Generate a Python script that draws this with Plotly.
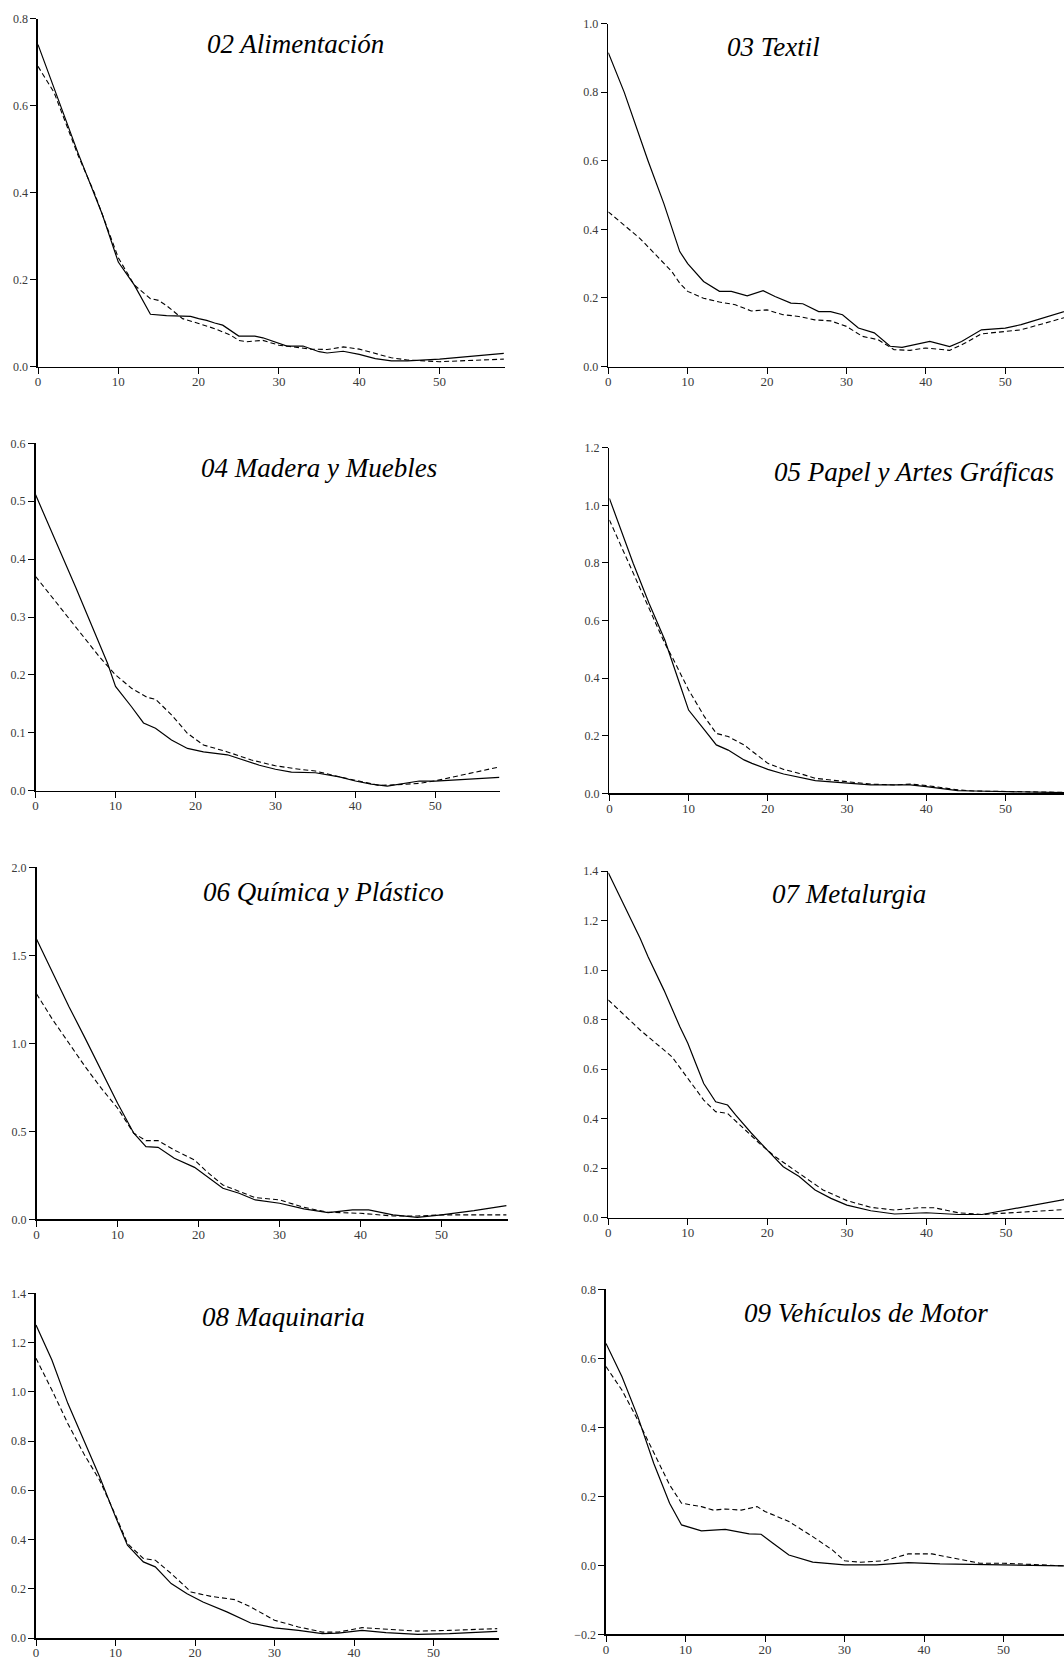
import plotly.graph_objects as go

W, H = 1064, 1662

# ---------------- data ----------------
titles = ["02 Alimentación", "03 Textil", "04 Madera y Muebles", "05 Papel y Artes Gráficas",
          "06 Química y Plástico", "07 Metalurgia", "08 Maquinaria", "09 Vehículos de Motor"]

alim_x_solid = [0, 5, 8, 10, 12, 14, 16, 19, 20, 21, 22, 23, 25, 27, 28, 30, 31, 33, 35, 36, 38, 40, 42, 44, 46, 50, 58]
alim_y_solid = [0.74, 0.49, 0.35, 0.24, 0.187, 0.12, 0.117, 0.115, 0.11, 0.106, 0.10, 0.095, 0.07, 0.07, 0.066, 0.053,
                0.047, 0.047, 0.034, 0.031, 0.035, 0.028, 0.018, 0.013, 0.013, 0.017, 0.03]
alim_x_dash = [0, 2, 5, 7, 10, 12, 14, 15, 16, 18, 20, 22, 24, 25, 26, 28, 30, 32, 34, 36, 38, 40, 42, 44, 46, 50, 58]
alim_y_dash = [0.69, 0.63, 0.485, 0.40, 0.25, 0.187, 0.156, 0.152, 0.14, 0.11, 0.099, 0.087, 0.072, 0.06, 0.057, 0.06,
               0.049, 0.045, 0.04, 0.039, 0.045, 0.04, 0.03, 0.02, 0.015, 0.011, 0.017]

text_x_solid = [0, 2, 5, 7, 9, 10, 12, 14, 15.5, 17.5, 19.5, 21, 23, 24.5, 26.5, 28, 29.5, 31.5, 33.5, 35.5, 37, 40.5,
                43, 44.5, 47, 50, 52, 58]
text_y_solid = [0.915, 0.80, 0.60, 0.475, 0.335, 0.30, 0.248, 0.219, 0.219, 0.206, 0.221, 0.204, 0.185, 0.183, 0.16,
                0.16, 0.151, 0.112, 0.098, 0.059, 0.056, 0.073, 0.058, 0.073, 0.107, 0.112, 0.122, 0.164]
text_x_dash = [0, 4, 8, 9, 10, 12, 14, 16, 18, 20, 22, 24, 26, 28, 30, 32, 34, 36, 38, 40, 43, 45, 47, 50, 52, 58]
text_y_dash = [0.451, 0.373, 0.277, 0.243, 0.219, 0.199, 0.188, 0.18, 0.162, 0.165, 0.151, 0.146, 0.136, 0.133, 0.117,
               0.088, 0.078, 0.049, 0.047, 0.054, 0.047, 0.069, 0.095, 0.103, 0.107, 0.146]

mad_x_solid = [0, 5, 9, 10, 12, 13.5, 15, 17, 19, 21, 24, 26, 28, 30, 32, 35, 38, 40, 42, 44, 46, 48, 50, 58]
mad_y_solid = [0.511, 0.352, 0.22, 0.18, 0.145, 0.117, 0.108, 0.0875, 0.073, 0.067, 0.062, 0.053, 0.044, 0.037, 0.032,
               0.031, 0.024, 0.0167, 0.0115, 0.008, 0.0127, 0.0167, 0.0167, 0.023]
mad_x_dash = [0, 5, 8, 10, 12, 14, 15, 17, 19, 21, 24, 27, 30, 33, 35, 38, 40, 43, 46, 48, 50, 54, 58]
mad_y_dash = [0.37, 0.283, 0.231, 0.2, 0.177, 0.161, 0.158, 0.131, 0.099, 0.079, 0.067, 0.053, 0.043, 0.037, 0.034,
              0.024, 0.018, 0.009, 0.011, 0.0127, 0.017, 0.029, 0.041]

pap_x_solid = [0, 3, 5, 7, 9, 10, 12, 13.5, 15, 17, 18, 20, 22, 24, 26, 28, 30, 33, 36, 38, 40, 42, 44, 46, 50, 58]
pap_y_solid = [1.024, 0.799, 0.66, 0.532, 0.37, 0.289, 0.22, 0.168, 0.15, 0.116, 0.104, 0.083, 0.067, 0.056, 0.044,
               0.04, 0.035, 0.029, 0.029, 0.029, 0.023, 0.017, 0.009, 0.008, 0.006, 0.002]
pap_x_dash = [0, 3, 5, 7, 8, 10, 12, 13.5, 15, 17, 20, 22, 24, 26, 28, 30, 33, 36, 38, 40, 42, 44, 46, 50, 58]
pap_y_dash = [0.949, 0.764, 0.642, 0.52, 0.469, 0.359, 0.266, 0.208, 0.197, 0.168, 0.104, 0.083, 0.069, 0.052, 0.046,
              0.04, 0.032, 0.029, 0.032, 0.027, 0.02, 0.012, 0.008, 0.007, 0.003]

quim_x_solid = [0, 2, 4, 6, 8, 10, 12, 13.5, 15, 17, 19.5, 21, 23, 25, 27, 30, 33, 36, 39, 41, 44, 47, 50, 54, 58]
quim_y_solid = [1.591, 1.398, 1.208, 1.028, 0.839, 0.659, 0.489, 0.413, 0.409, 0.347, 0.295, 0.242, 0.176, 0.148, 0.11,
                0.091, 0.059, 0.038, 0.053, 0.053, 0.025, 0.011, 0.025, 0.049, 0.078]
quim_x_dash = [0, 2, 4, 6, 8, 10, 12, 13.5, 15, 17, 19.5, 21, 23, 25, 27, 30, 33, 36, 40, 44, 47, 50, 58]
quim_y_dash = [1.28, 1.133, 1.0, 0.867, 0.744, 0.631, 0.489, 0.447, 0.447, 0.394, 0.337, 0.271, 0.195, 0.157, 0.123,
               0.11, 0.068, 0.04, 0.034, 0.019, 0.019, 0.025, 0.025]

met_x_solid = [0, 2, 4, 5, 7, 9, 10, 11, 12, 13.5, 15, 16, 18, 20, 22, 24, 26, 28, 30, 33, 36, 40, 44, 47, 50, 54, 58]
met_y_solid = [1.393, 1.263, 1.128, 1.054, 0.919, 0.771, 0.704, 0.623, 0.542, 0.468, 0.455, 0.415, 0.341, 0.273, 0.206,
               0.166, 0.112, 0.078, 0.051, 0.028, 0.015, 0.02, 0.013, 0.013, 0.031, 0.055, 0.077]
met_x_dash = [0, 4, 8, 10, 12, 13.5, 15, 17, 19, 21, 24, 27, 30, 33, 36, 39, 41, 44, 47, 50, 58]
met_y_dash = [0.879, 0.758, 0.65, 0.563, 0.475, 0.428, 0.421, 0.361, 0.3, 0.246, 0.179, 0.112, 0.069, 0.042, 0.031,
              0.04, 0.04, 0.02, 0.013, 0.018, 0.034]

maq_x_solid = [0, 2, 4, 6, 8, 10, 11.5, 13.5, 15, 17, 19, 21, 24, 27, 30, 33, 36, 38, 41, 44, 48, 52, 58]
maq_y_solid = [1.271, 1.129, 0.953, 0.804, 0.655, 0.492, 0.377, 0.309, 0.289, 0.221, 0.18, 0.146, 0.106, 0.061, 0.041,
               0.031, 0.018, 0.02, 0.031, 0.022, 0.015, 0.018, 0.027]
maq_x_dash = [0, 2, 4, 6, 8, 10, 11.5, 13.5, 15, 17, 19.5, 22, 25, 27, 30, 33, 36, 38, 41, 44, 48, 52, 58]
maq_y_dash = [1.136, 1.007, 0.871, 0.749, 0.641, 0.499, 0.384, 0.323, 0.316, 0.262, 0.187, 0.169, 0.156, 0.126, 0.072,
              0.045, 0.024, 0.024, 0.042, 0.035, 0.028, 0.031, 0.038]

veh_x_solid = [0, 2, 4, 6, 8, 9.5, 12, 15, 18, 19.5, 21, 23, 26, 30, 34, 38, 42, 50, 58]
veh_y_solid = [0.643, 0.547, 0.431, 0.296, 0.18, 0.117, 0.1, 0.104, 0.091, 0.09, 0.064, 0.03, 0.009, 0.001, 0.001,
               0.008, 0.004, 0.001, -0.002]
veh_x_dash = [0, 2, 4, 6, 8, 9.5, 12, 13.5, 15, 17, 19, 20, 23, 26, 28.5, 30, 32, 35, 38, 41, 44, 47, 50, 55, 58]
veh_y_dash = [0.576, 0.508, 0.421, 0.325, 0.233, 0.18, 0.17, 0.16, 0.163, 0.16, 0.17, 0.156, 0.127, 0.083, 0.044,
              0.013, 0.009, 0.013, 0.033, 0.033, 0.02, 0.006, 0.006, 0.001, -0.002]

series = [
    (alim_x_solid, alim_y_solid, alim_x_dash, alim_y_dash),
    (text_x_solid, text_y_solid, text_x_dash, text_y_dash),
    (mad_x_solid, mad_y_solid, mad_x_dash, mad_y_dash),
    (pap_x_solid, pap_y_solid, pap_x_dash, pap_y_dash),
    (quim_x_solid, quim_y_solid, quim_x_dash, quim_y_dash),
    (met_x_solid, met_y_solid, met_x_dash, met_y_dash),
    (maq_x_solid, maq_y_solid, maq_x_dash, maq_y_dash),
    (veh_x_solid, veh_y_solid, veh_x_dash, veh_y_dash),
]

y_ranges = [(0, 0.8), (0, 1.0), (0, 0.6), (0, 1.2), (0, 2.0), (0, 1.4), (0, 1.4), (-0.2, 0.8)]
y_dticks = [0.2, 0.2, 0.1, 0.2, 0.5, 0.2, 0.2, 0.2]
x_ticks = [0, 10, 20, 30, 40, 50]

# ---------------- layout (pixel geometry) ----------------
# (left px, right px, top px, bottom px, x range end)
boxes = [
    (38.0, 505.0, 18.5, 366.5, 58.15),
    (608.3, 1064, 23.5, 366.5, 57.4),
    (35.6, 500.0, 443.3, 790.7, 58.1),
    (609.4, 1064, 447.7, 793.3, 57.4),
    (36.6, 508.0, 867.3, 1219.3, 58.2),
    (608.3, 1064, 871.0, 1217.7, 57.3),
    (36.0, 498.8, 1293.3, 1638.0, 58.2),
    (606.0, 1064, 1289.3, 1634.3, 57.6),
]
# title centre x (px) and baseline (px)
title_pos = [(295, 53.5), (773, 57.3), (318.6, 477.7), (913.7, 481.7),
             (323.4, 901.7), (849.3, 904.0), (283, 1326.7), (866.2, 1322.7)]

SERIF = "Liberation Serif, Times New Roman, Times, serif"

fig = go.Figure()
layout = dict(
    template="none",
    width=W, height=H, margin=dict(l=0, r=0, t=0, b=0, autoexpand=False),
    paper_bgcolor="white", plot_bgcolor="white", showlegend=False,
    font=dict(family=SERIF, color="#333333"),
)

ytick_font = dict(family=SERIF, size=12, color="#3a3a3a")
xtick_font = dict(family=SERIF, size=13, color="#3a3a3a")

for i, (xs, ys, xd, yd) in enumerate(series):
    n = i + 1
    xa = "x" if n == 1 else f"x{n}"
    ya = "y" if n == 1 else f"y{n}"
    fig.add_trace(go.Scatter(x=xd, y=yd, mode="lines", xaxis=xa, yaxis=ya, hoverinfo="skip",
                             line=dict(color="black", width=1.1, dash="5px,3px")))
    fig.add_trace(go.Scatter(x=xs, y=ys, mode="lines", xaxis=xa, yaxis=ya, hoverinfo="skip",
                             line=dict(color="black", width=1.2)))
    l, r, t, b, xend = boxes[i]
    xkey = "xaxis" if n == 1 else f"xaxis{n}"
    ykey = "yaxis" if n == 1 else f"yaxis{n}"
    layout[xkey] = dict(
        domain=[l / W, r / W], range=[0, xend], anchor=ya, automargin=False,
        tickmode="array", tickvals=x_ticks, ticks="outside", ticklen=6, tickwidth=1, tickcolor="black",
        ticklabelstandoff=-4,
        showline=True, linecolor="black", linewidth=1.6, showgrid=False, zeroline=False,
        tickfont=xtick_font,
    )
    y0, y1 = y_ranges[i]
    layout[ykey] = dict(
        domain=[1 - b / H, 1 - t / H], range=[y0, y1], anchor=xa, automargin=False,
        tickmode="linear", dtick=y_dticks[i], tick0=0, tickformat=".1f",
        ticks="outside", ticklen=6, tickwidth=1, tickcolor="black",
        showline=True, linecolor="black", linewidth=1.6, showgrid=False, zeroline=False,
        tickfont=ytick_font,
    )

annotations = []
for i, title in enumerate(titles):
    cx, base = title_pos[i]
    annotations.append(dict(
        text=title, x=cx / W, y=1 - (base - 10) / H, xref="paper", yref="paper",
        xanchor="center", yanchor="middle", showarrow=False,
        font=dict(family=SERIF, size=27, color="black", style="italic"),
    ))
layout["annotations"] = annotations

fig.update_layout(**layout)
fig.write_html(
    "out.html",
    config={"displayModeBar": False, "staticPlot": True},
    post_script="document.body.style.margin='0px';document.body.style.overflow='hidden';",
)
